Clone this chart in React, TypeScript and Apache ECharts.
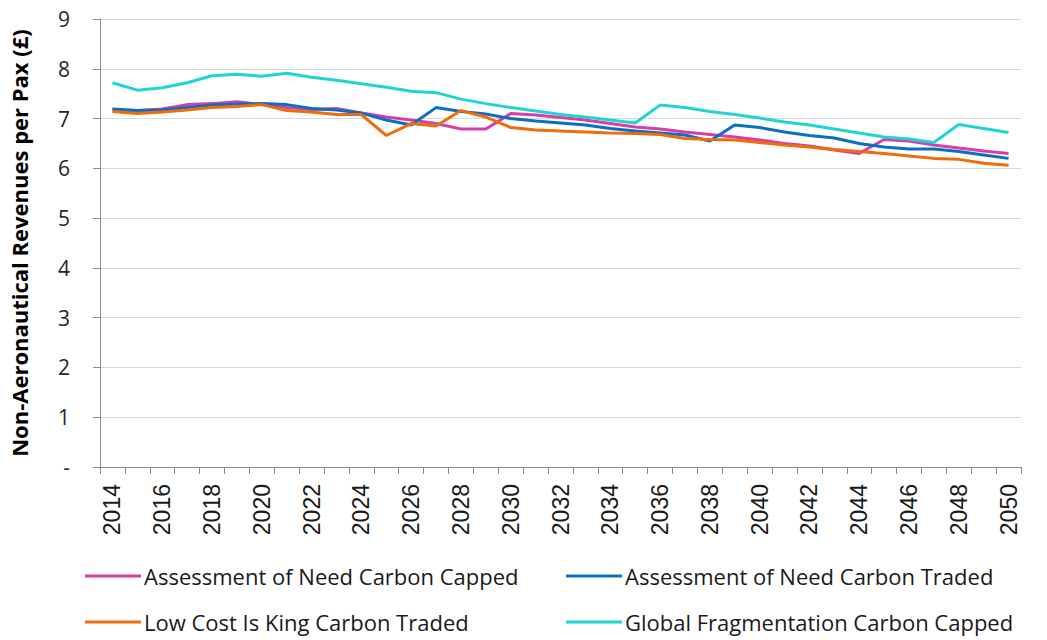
import React, { useEffect, useRef } from "react";
import * as echarts from "echarts";

const years = Array.from({ length: 37 }, (_, i) => String(2014 + i));

const aonCapped = [7.17, 7.16, 7.19, 7.28, 7.30, 7.34, 7.28, 7.22, 7.18, 7.20, 7.11, 7.03, 6.97, 6.90, 6.79, 6.79, 7.10, 7.07, 7.02, 6.97, 6.90, 6.83, 6.79, 6.73, 6.68, 6.63, 6.57, 6.50, 6.45, 6.37, 6.30, 6.58, 6.55, 6.47, 6.41, 6.35, 6.30];
const aonTraded = [7.19, 7.16, 7.17, 7.22, 7.27, 7.29, 7.30, 7.28, 7.20, 7.17, 7.11, 6.97, 6.87, 7.22, 7.14, 7.09, 7.00, 6.95, 6.91, 6.87, 6.80, 6.75, 6.71, 6.67, 6.55, 6.87, 6.82, 6.73, 6.66, 6.61, 6.50, 6.43, 6.39, 6.39, 6.34, 6.27, 6.20];
const lowCost = [7.14, 7.10, 7.13, 7.17, 7.22, 7.24, 7.28, 7.16, 7.13, 7.08, 7.08, 6.66, 6.90, 6.85, 7.16, 7.03, 6.82, 6.77, 6.75, 6.73, 6.71, 6.70, 6.68, 6.60, 6.58, 6.57, 6.52, 6.47, 6.43, 6.38, 6.34, 6.30, 6.25, 6.20, 6.18, 6.10, 6.06];
const globalFrag = [7.72, 7.57, 7.62, 7.72, 7.86, 7.89, 7.85, 7.91, 7.83, 7.77, 7.70, 7.63, 7.55, 7.52, 7.39, 7.30, 7.22, 7.15, 7.08, 7.03, 6.97, 6.91, 7.27, 7.22, 7.14, 7.08, 7.01, 6.93, 6.87, 6.79, 6.71, 6.63, 6.59, 6.52, 6.88, 6.80, 6.72];

const names = [
  "Assessment of Need Carbon Capped",
  "Assessment of Need Carbon Traded",
  "Low Cost Is King Carbon Traded",
  "Global Fragmentation Carbon Capped",
];
const colors = ["#D43FA8", "#0A6FC2", "#EE6C0A", "#22D3D3"];

const legendPos = [
  { left: 85, top: 565 },
  { left: 566, top: 565 },
  { left: 85, top: 611 },
  { left: 566, top: 611 },
];

export default function App() {
  const ref = useRef<HTMLDivElement>(null);
  useEffect(() => {
    if (!ref.current) return;
    const chart = echarts.init(ref.current, undefined, { renderer: "svg" });
    const font = "'Open Sans', 'Noto Sans', sans-serif";
    const seriesData = [aonCapped, aonTraded, lowCost, globalFrag];
    chart.setOption({
      animation: false,
      textStyle: { fontFamily: font },
      grid: { left: 96, right: 26, top: 19, bottom: 173, containLabel: false },
      legend: names.map((n, i) => ({
        orient: "horizontal",
        left: legendPos[i].left,
        top: legendPos[i].top,
        padding: 0,
        itemGap: 4,
        itemWidth: 56,
        itemHeight: 3,
        icon: "rect",
        data: [n],
        textStyle: { fontSize: 22, lineHeight: 22, color: "#1a1a1a", fontFamily: font, padding: [0, 0, 0, -2] },
      })),
      xAxis: {
        type: "category",
        data: years,
        boundaryGap: true,
        axisLine: { show: true, lineStyle: { color: "#8c8c8c", width: 1 } },
        axisTick: { show: true, interval: 0, length: 7, lineStyle: { color: "#8c8c8c" } },
        axisLabel: {
          interval: 1,
          rotate: 90,
          fontSize: 23,
          color: "#1a1a1a",
          margin: 17,
          fontFamily: "'Liberation Sans', Arial, sans-serif",
        },
      },
      yAxis: {
        type: "value",
        min: 0,
        max: 9,
        interval: 1,
        name: "Non-Aeronautical Revenues per Pax (£)",
        nameLocation: "middle",
        nameGap: 70,
        nameRotate: 90,
        nameTextStyle: { fontSize: 22, fontWeight: "bold", color: "#000", fontFamily: font },
        axisLine: { show: true, lineStyle: { color: "#8c8c8c" } },
        axisTick: { show: true, length: 7, lineStyle: { color: "#8c8c8c" } },
        axisLabel: {
          fontSize: 21,
          color: "#262626",
          margin: 30,
          fontFamily: font,
          formatter: (v: number) => (v === 0 ? "-" : String(v)),
        },
        splitLine: { show: true, lineStyle: { color: "#d9d9d9", width: 1 } },
      },
      series: seriesData.map((d, i) => ({
        name: names[i],
        type: "line",
        data: d,
        symbol: "none",
        lineStyle: { width: 3, color: colors[i] },
        itemStyle: { color: colors[i] },
      })),
    });
    return () => chart.dispose();
  }, []);
  return <div ref={ref} style={{ width: 1047, height: 640, position: "absolute", left: 0, top: 0 }} />;
}
